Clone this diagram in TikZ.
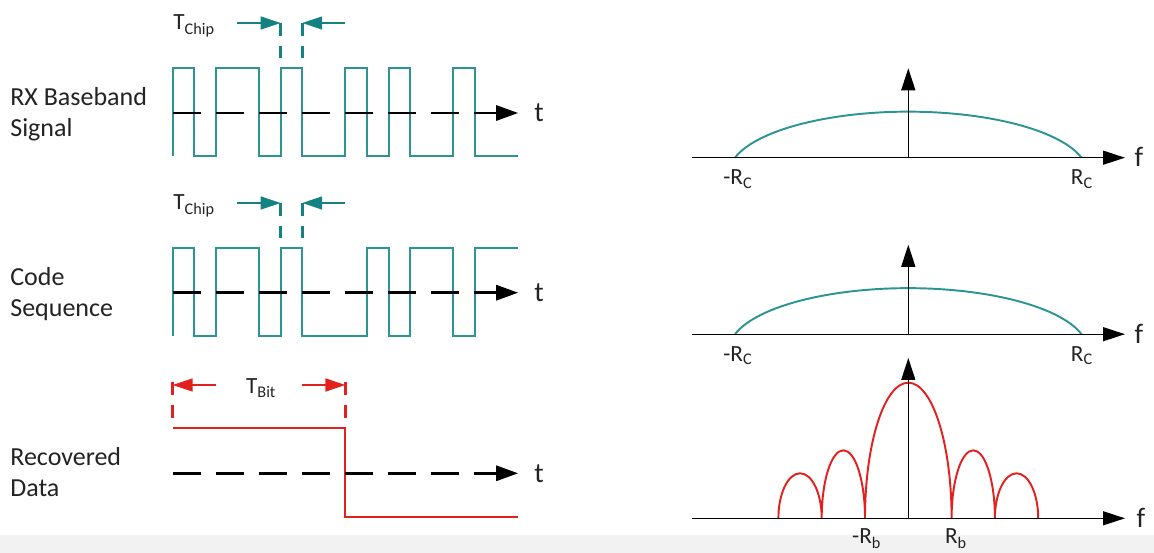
\documentclass[tikz,border=0pt]{standalone}
\usepackage{fontspec}
\setmainfont{Carlito}
\usetikzlibrary{arrows.meta}

\definecolor{chipteal}{RGB}{45,148,150}
\definecolor{markteal}{RGB}{20,130,128}
\definecolor{bitred}{RGB}{226,32,30}
\definecolor{txtgray}{RGB}{35,35,35}

\tikzset{
  wave/.style={chipteal, line width=1.1pt},
  data/.style={bitred, line width=1.1pt},
  taxis/.style={black, line width=1.7pt, dash pattern=on 0.56cm off 0.3cm,
    -{Triangle[length=0.44cm,width=0.3cm]}},
  faxis/.style={black, line width=0.75pt, -{Triangle[length=0.44cm,width=0.28cm]}},
  marker/.style={line width=1.7pt, dash pattern=on 0.26cm off 0.2cm},
  span/.style={line width=0.85pt, -{Triangle[length=0.4cm,width=0.26cm]}},
  rowlabel/.style={align=left, anchor=base west, inner sep=0pt, text=txtgray,
    font=\fontsize{14.8}{17.6}\selectfont},
  tlabel/.style={inner sep=0pt, text=txtgray, font=\fontsize{13.2}{14}\selectfont},
  axlabel/.style={inner sep=0pt, text=txtgray, font=\fontsize{16}{18}\selectfont},
}

\begin{document}
\begin{tikzpicture}[x=0.02cm, y=-0.02cm]
  \useasboundingbox (0,0) rectangle (1154,553);
  \fill[black!5] (0,535) rectangle (1154,553);

  % row titles (base = last line)
  \node[rowlabel] (rx) at (10,136.7) {RX Baseband\\Signal};
  \node[rowlabel] (code) at (10,316.5) {Code\\Sequence};
  \node[rowlabel] (rec) at (10,496.7) {Recovered\\Data};

  % time plots, x in chips
  \begin{scope}[xshift=3.454cm, x=0.432cm]
    % received chips
    \draw[wave] (0,156) |- (1,68) |- (2,156) |- (4,68) |- (5,156) |- (6,68) |- (8,156)
      |- (9,68) |- (10,156) |- (11,68) |- (13,156) |- (14,68) |- (16,156);
    \coordinate (t1s) at (0,113);
    \coordinate (t1e) at (16,113);
    \draw[taxis] (t1s) -- (t1e);
    \coordinate (c1l) at (5,23);
    \coordinate (c1r) at (6,23);
    \draw[marker, markteal] (c1l) -- (5,58);
    \draw[marker, markteal] (c1r) -- (6,58);
    \draw[span, markteal] (3,23) -- (c1l);
    \draw[span, markteal] (8,23) -- (c1r);

    % spreading code
    \draw[wave] (0,336) |- (1,248.3) |- (2,336) |- (4,248.3) |- (5,336) |- (6,248.3) |- (9,336)
      |- (10,248.3) |- (11,336) |- (13,248.3) |- (14,336) |- (16,248.3);
    \coordinate (t2s) at (0,292.7);
    \coordinate (t2e) at (16,292.7);
    \draw[taxis] (t2s) -- (t2e);
    \coordinate (c2l) at (5,203);
    \coordinate (c2r) at (6,203);
    \draw[marker, markteal] (c2l) -- (5,238);
    \draw[marker, markteal] (c2r) -- (6,238);
    \draw[span, markteal] (3,203) -- (c2l);
    \draw[span, markteal] (8,203) -- (c2r);

    % despread bit
    \draw[data] (0,428.3) -| (8,517.3) -- (16,517.3);
    \coordinate (t3s) at (0,473.3);
    \coordinate (t3e) at (16,473.3);
    \draw[taxis] (t3s) -- (t3e);
    \coordinate (b1) at (0,385);
    \coordinate (b2) at (8,385);
    \draw[marker, bitred] (0,381.7) -- (0,420);
    \draw[marker, bitred] (8,381.7) -- (8,420);
    \draw[span, bitred] (2,385) -- (b1);
    \draw[span, bitred] (6,385) -- (b2);
    \node[tlabel, anchor=base] (tbit) at (4.1,393.5) {T\textsubscript{Bit}};
  \end{scope}

  \node[tlabel, anchor=base west] (tc1) at (173,30) {T\textsubscript{Chip}};
  \node[tlabel, anchor=base west] (tc2) at (173,210) {T\textsubscript{Chip}};
  \node[axlabel] (tt1) at (539,113) {t};
  \node[axlabel] (tt2) at (539,292.7) {t};
  \node[axlabel] (tt3) at (539,473.3) {t};

  % spectrum of received signal
  \coordinate (f1s) at (691.7,157.7);
  \coordinate (f1e) at (1125,157.7);
  \coordinate (f1o) at (908.3,157.7);
  \coordinate (f1t) at (908.3,68.3);
  \draw[wave] (735,157.7) arc[start angle=195, end angle=345, x radius=179.4, y radius=62.1];
  \draw[faxis] (f1s) -- (f1e);
  \draw[faxis] (f1o) -- (f1t);
  \node[axlabel] (ff1) at (1139,157) {f};
  \node[tlabel, anchor=base] (rc1n) at (738,185) {-R\textsubscript{C}};
  \node[tlabel, anchor=base] (rc1p) at (1082,185) {R\textsubscript{C}};

  % spectrum of code
  \coordinate (f2s) at (691.7,334.2);
  \coordinate (f2e) at (1125,334.2);
  \coordinate (f2o) at (908.3,334.2);
  \coordinate (f2t) at (908.3,244.8);
  \draw[wave] (735,334.2) arc[start angle=195, end angle=345, x radius=179.4, y radius=62.1];
  \draw[faxis] (f2s) -- (f2e);
  \draw[faxis] (f2o) -- (f2t);
  \node[axlabel] (ff2) at (1139,333.5) {f};
  \node[tlabel, anchor=base] (rc2n) at (738,361.5) {-R\textsubscript{C}};
  \node[tlabel, anchor=base] (rc2p) at (1082,361.5) {R\textsubscript{C}};

  % spectrum of recovered data
  \coordinate (f3s) at (691.7,518.3);
  \coordinate (f3e) at (1125,518.3);
  \coordinate (f3o) at (908.3,518.3);
  \coordinate (f3t) at (908.3,358);
  \draw[data] (778.4,518.3)
    arc[start angle=180, end angle=360, x radius=21.65, y radius=45]
    arc[start angle=180, end angle=360, x radius=21.65, y radius=68]
    arc[start angle=180, end angle=360, x radius=43.3, y radius=135.6]
    arc[start angle=180, end angle=360, x radius=21.65, y radius=68]
    arc[start angle=180, end angle=360, x radius=21.65, y radius=45];
  \draw[faxis] (f3s) -- (f3e);
  \draw[faxis] (f3o) -- (f3t);
  \node[axlabel] (ff3) at (1141,518) {f};
  \node[tlabel, anchor=base] (rbn) at (866.7,544) {-R\textsubscript{b}};
  \node[tlabel, anchor=base] (rbp) at (956,544) {R\textsubscript{b}};
\end{tikzpicture}
\end{document}
